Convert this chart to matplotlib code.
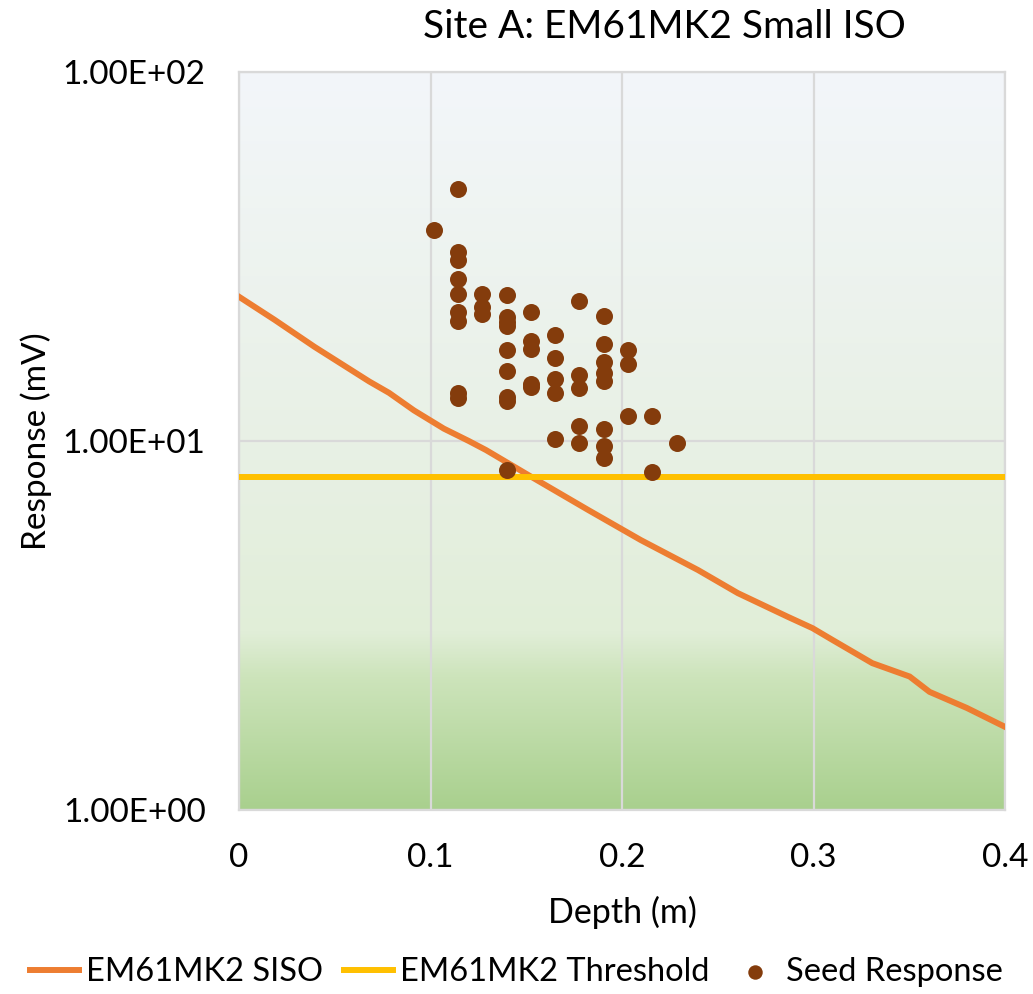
import numpy as np
import matplotlib
matplotlib.use("Agg")
import matplotlib.pyplot as plt
from matplotlib.ticker import FuncFormatter, FixedLocator, NullLocator
from matplotlib.colors import LinearSegmentedColormap

plt.rcParams['font.family'] = ['Lato', 'DejaVu Sans']

# SISO response curve (depth in m, response in mV)
siso_depth = [0.0, 0.0186, 0.0394, 0.068, 0.0784, 0.0914, 0.107, 0.120, 0.129,
              0.151, 0.1824, 0.2098, 0.2397, 0.2605, 0.2865, 0.2995, 0.3099,
              0.3307, 0.3502, 0.3606, 0.3801, 0.40]
siso_resp = [24.6, 21.3, 18.0, 14.5, 13.5, 12.1, 10.8, 10.0, 9.45,
             8.09, 6.5, 5.39, 4.47, 3.87, 3.34, 3.11, 2.89,
             2.50, 2.30, 2.09, 1.89, 1.68]

threshold = 8.0

# Seed item responses
seed_depth = ([0.1016] * 1 + [0.1143] * 9 + [0.1270] * 3 + [0.1397] * 9 +
              [0.1524] * 5 + [0.1651] * 5 + [0.1778] * 5 + [0.1905] * 8 +
              [0.2032] * 3 + [0.2159] * 2 + [0.2286] * 1)
seed_resp = [37.2,
             48.2, 32.6, 30.9, 27.4, 25.1, 22.3, 21.2, 13.5, 13.1,
             25.1, 23.1, 22.1,
             24.8, 21.7, 21.0, 20.5, 17.6, 15.5, 13.2, 12.8, 8.35,
             22.3, 18.7, 17.8, 14.3, 14.0,
             19.4, 16.8, 14.7, 13.5, 10.1,
             23.9, 15.1, 13.9, 11.0, 9.9,
             21.8, 18.3, 16.4, 15.3, 14.5, 10.8, 9.7, 9.0,
             17.6, 16.2, 11.7,
             11.7, 8.22,
             9.9]

x_ticks = [0, 0.1, 0.2, 0.3, 0.4]
y_ticks = [1, 10, 100]

fig = plt.figure(figsize=(10.33, 9.94), dpi=100)
ax = fig.add_axes([239 / 1033, 1 - 810 / 994, (1005 - 239) / 1033, (810 - 72) / 994])

# gradient plot-area fill (top -> bottom)
grad = LinearSegmentedColormap.from_list('bg', [
    (0.0, '#f3f6fa'),
    (0.55, '#e7f0e3'),
    (0.76, '#e1eed8'),
    (0.82, '#cde4bb'),
    (1.0, '#a9d08e')])
ax.imshow(np.linspace(0, 1, 256).reshape(-1, 1), cmap=grad, aspect='auto',
          extent=(0, 1, 0, 1), transform=ax.transAxes, zorder=0)

ax.plot(siso_depth, siso_resp, color='#ed7d31', lw=4.3, label='EM61MK2 SISO',
        zorder=3, solid_joinstyle='miter')
ax.plot([0, 0.4], [threshold, threshold], color='#ffc000', lw=4.3,
        label='EM61MK2 Threshold', zorder=3)
ax.scatter(seed_depth, seed_resp, s=150, color='#843c0c', label='Seed Response',
           zorder=4, linewidths=0)

ax.set_yscale('log')
ax.set_xlim(0, 0.4)
ax.set_ylim(1, 100)
ax.xaxis.set_major_locator(FixedLocator(x_ticks))
ax.yaxis.set_major_locator(FixedLocator(y_ticks))
ax.yaxis.set_minor_locator(NullLocator())
ax.xaxis.set_major_formatter(FuncFormatter(lambda v, p: f"{v:g}"))
ax.yaxis.set_major_formatter(FuncFormatter(lambda v, p: f"{v:.2E}"))
ax.tick_params(length=0, labelsize=24, pad=24)
ax.tick_params(axis='x', pad=24)
ax.grid(True, color='#d9d9d9', lw=1.6)
ax.set_axisbelow(True)
for s in ax.spines.values():
    s.set_color('#d9d9d9')
    s.set_linewidth(1.6)

fig.text(664 / 1033, 1 - 27 / 994, 'Site A: EM61MK2 Small ISO', fontsize=28,
         ha='center', va='center')
fig.text(622 / 1033, 1 - 912 / 994, 'Depth (m)', fontsize=24.5, ha='center', va='center')
fig.text(36 / 1033, 1 - 441 / 994, 'Response (mV)', fontsize=24, ha='center',
         va='center', rotation=90)

fig.legend(loc='center', bbox_to_anchor=(0.5, 1 - 972 / 994), ncol=3, frameon=False,
           fontsize=23.5, handlelength=1.5, handletextpad=0.2, columnspacing=0.65,
           markerscale=0.85)

fig.savefig('out.png', dpi=100)
